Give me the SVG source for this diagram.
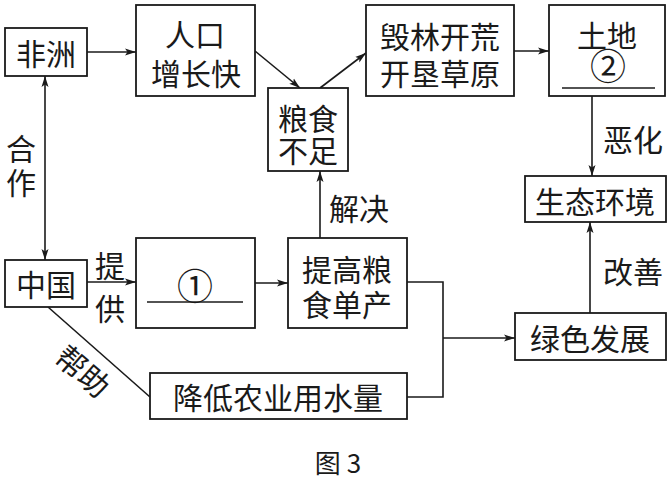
<svg xmlns="http://www.w3.org/2000/svg" width="670" height="480" viewBox="0 0 670 480">
<defs>
<marker id="ah" markerUnits="userSpaceOnUse" markerWidth="12" markerHeight="8" refX="11" refY="4" orient="auto-start-reverse">
<path d="M0,0.5 L11,4 L0,7.5 L2.5,4 Z" fill="#1a1a1a"/>
</marker>
<style>
.box{fill:#fff;stroke:#1a1a1a;stroke-width:1.8}
.ln{fill:none;stroke:#1a1a1a;stroke-width:1.6}
.ul{stroke:#1a1a1a;stroke-width:1.4}
text{font-family:"Noto Sans CJK SC","Noto Sans",sans-serif;font-size:30px;fill:#1a1a1a;text-anchor:middle;dominant-baseline:central}
.num{font-size:36px}
</style>
</defs>
<rect width="670" height="480" fill="#fff"/>
<g id="connectors">
<line class="ln" x1="87" y1="52" x2="136" y2="52" marker-end="url(#ah)"/>
<line class="ln" x1="255" y1="51" x2="300" y2="88" marker-end="url(#ah)"/>
<line class="ln" x1="320" y1="88" x2="366" y2="53" marker-end="url(#ah)"/>
<line class="ln" x1="514" y1="51" x2="549" y2="51" marker-end="url(#ah)"/>
<line class="ln" x1="592" y1="96" x2="592" y2="176" marker-end="url(#ah)"/>
<line class="ln" x1="45" y1="76" x2="45" y2="260" marker-start="url(#ah)" marker-end="url(#ah)"/>
<line class="ln" x1="87" y1="282" x2="136" y2="282" marker-end="url(#ah)"/>
<line class="ln" x1="255" y1="283" x2="288" y2="283" marker-end="url(#ah)"/>
<line class="ln" x1="320" y1="238" x2="320" y2="171" marker-end="url(#ah)"/>
<line class="ln" x1="48" y1="307" x2="150" y2="397"/>
<polyline class="ln" points="407,282 443,282 443,397 407,397"/>
<line class="ln" x1="443" y1="338" x2="515" y2="338" marker-end="url(#ah)"/>
<line class="ln" x1="590" y1="313" x2="590" y2="222" marker-end="url(#ah)"/>
<text><tspan x="21" y="147">合</tspan><tspan x="21" y="181">作</tspan></text>
<text><tspan x="110" y="264">提</tspan><tspan x="110" y="307">供</tspan></text>
<text x="359" y="207">解决</text>
<text x="633" y="138">恶化</text>
<text x="633" y="270">改善</text>
<text x="84" y="370" transform="rotate(41 84 370)">帮助</text>
</g>
<g id="n-feizhou">
<rect class="box" x="5" y="28" width="82" height="48"/>
<text x="46" y="52">非洲</text>
</g>
<g id="n-renkou">
<rect class="box" x="136" y="5" width="119" height="91"/>
<text><tspan x="195" y="33">人口</tspan><tspan x="196" y="72">增长快</tspan></text>
</g>
<g id="n-liangshi">
<rect class="box" x="268" y="88" width="80" height="83"/>
<text><tspan x="308" y="117">粮食</tspan><tspan x="308" y="149">不足</tspan></text>
</g>
<g id="n-huilin">
<rect class="box" x="366" y="5" width="148" height="91"/>
<text><tspan x="440" y="35">毁林开荒</tspan><tspan x="440" y="72">开垦草原</tspan></text>
</g>
<g id="n-tudi">
<rect class="box" x="549" y="5" width="116" height="91"/>
<text><tspan x="607" y="34">土地</tspan><tspan x="608" y="64" class="num">②</tspan></text>
<line class="ul" x1="562" y1="88" x2="655" y2="88"/>
</g>
<g id="n-shengtai">
<rect class="box" x="525" y="176" width="141" height="46"/>
<text x="595" y="200">生态环境</text>
</g>
<g id="n-zhongguo">
<rect class="box" x="5" y="260" width="82" height="47"/>
<text x="46" y="283">中国</text>
</g>
<g id="n-blank1">
<rect class="box" x="136" y="238" width="119" height="90"/>
<text x="195" y="284" class="num">①</text>
<line class="ul" x1="147" y1="302" x2="243" y2="302"/>
</g>
<g id="n-tigao">
<rect class="box" x="288" y="238" width="119" height="90"/>
<text><tspan x="347" y="268">提高粮</tspan><tspan x="347" y="303">食单产</tspan></text>
</g>
<g id="n-jiangdi">
<rect class="box" x="150" y="373" width="257" height="46"/>
<text x="278" y="396">降低农业用水量</text>
</g>
<g id="n-lvse">
<rect class="box" x="515" y="313" width="151" height="47"/>
<text x="590" y="337">绿色发展</text>
</g>
<text x="338" y="461" style="font-size:26px">图 3</text>
</svg>
